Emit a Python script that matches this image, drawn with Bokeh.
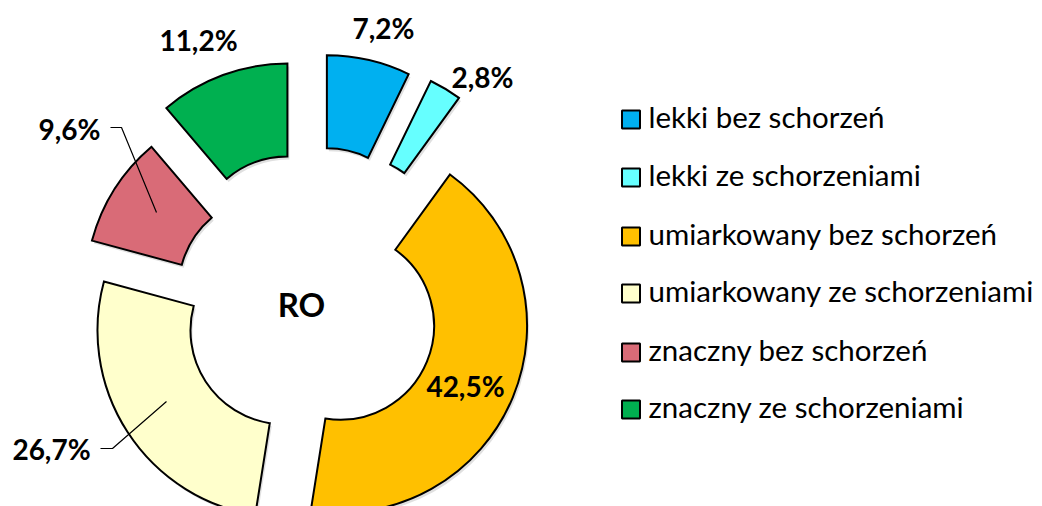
import math
from bokeh.plotting import figure
from bokeh.models import Range1d
from bokeh.core.properties import value
from bokeh.embed import file_html
from bokeh.resources import INLINE

# ---- data ----
categories = ["lekki bez schorzeń", "lekki ze schorzeniami", "umiarkowany bez schorzeń",
              "umiarkowany ze schorzeniami", "znaczny bez schorzeń", "znaczny ze schorzeniami"]
shares = [7.2, 2.8, 42.5, 26.7, 9.6, 11.2]
labels = ["7,2%", "2,8%", "42,5%", "26,7%", "9,6%", "11,2%"]
center_title = "RO"

# ---- styles ----
colors = ["#00B0F0", "#66FFFF", "#FFC000", "#FFFFCC", "#D96B77", "#00B050"]
explode = [73, 75, 32, 31, 45, 67]          # px, per slice
label_pos = [(383, 479), (482, 430), (465, 121), (51, 58), (69, 378), (198, 467)]
leaders = {3: [(100, 58), (112, 58), (166, 105)], 4: [(110, 379), (121, 379), (156, 294)]}

W, H = 1042, 506
cx, cy = 310, 193
r_in, r_out = 94, 187

p = figure(width=W, height=H, output_backend="svg", toolbar_location=None,
           x_range=Range1d(0, W), y_range=Range1d(0, H), min_border=0)
p.axis.visible = False
p.grid.visible = False
p.outline_line_color = None
p.background_fill_color = "white"

total = sum(shares)
cum = 0.0
xs, ys, starts, ends = [], [], [], []
for i, v in enumerate(shares):
    t1 = cum / total * 360.0
    t2 = (cum + v) / total * 360.0
    cum += v
    bis = math.radians((t1 + t2) / 2)
    xs.append(cx + explode[i] * math.sin(bis))
    ys.append(cy + explode[i] * math.cos(bis))
    starts.append(math.radians(90 - t2))
    ends.append(math.radians(90 - t1))

# shadow
p.annular_wedge(x=[x + 2 for x in xs], y=[y - 3 for y in ys], inner_radius=r_in, outer_radius=r_out,
                start_angle=starts, end_angle=ends, fill_color="#000000", fill_alpha=0.12,
                line_color=None)
p.annular_wedge(x=xs, y=ys, inner_radius=r_in, outer_radius=r_out,
                start_angle=starts, end_angle=ends, fill_color=colors,
                line_color="black", line_width=2, line_join="miter")

# leader lines
for i, pts in leaders.items():
    p.line([q[0] for q in pts], [q[1] for q in pts], line_color="black", line_width=1.2)

# labels
p.text(x=[q[0] for q in label_pos], y=[q[1] for q in label_pos], text=labels,
       text_font=value("Lato"), text_font_style="bold", text_font_size=value("28px"),
       text_align="center", text_baseline="middle", text_color="black")
p.text(x=[301], y=[203], text=[center_title], text_font=value("Lato"),
       text_font_style="bold", text_font_size=value("33px"),
       text_align="center", text_baseline="middle", text_color="black")

# legend
leg_y = [387, 329, 270, 213, 154, 97]
p.rect(x=[630.5] * 6, y=leg_y, width=18, height=18, fill_color=colors,
       line_color="black", line_width=2)
p.text(x=[648] * 6, y=[v + 3 for v in leg_y], text=categories, text_font=value("Lato"),
       text_font_size=value("29.5px"), text_align="left", text_baseline="middle",
       text_color="black")

open("out.html", "w").write(file_html(p, INLINE))
